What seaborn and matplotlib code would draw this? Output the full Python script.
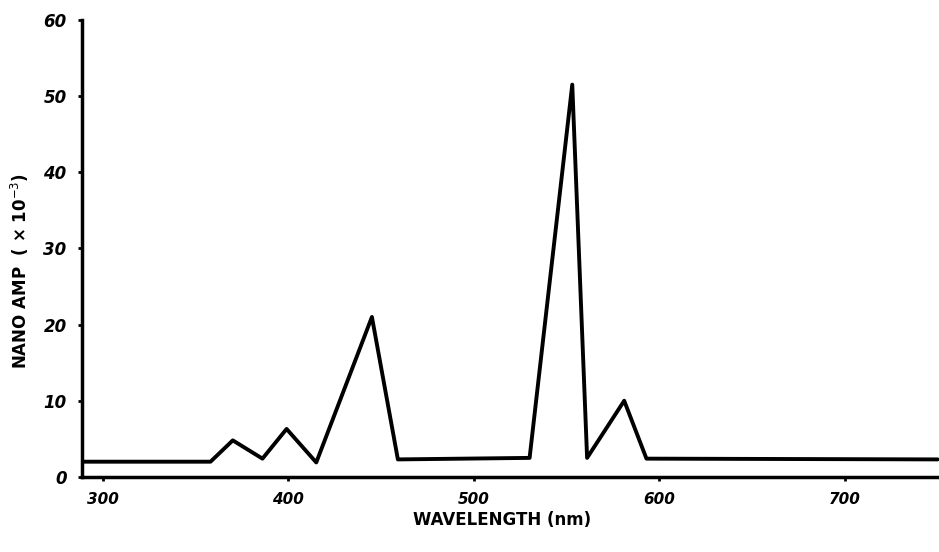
import pandas as pd
import matplotlib.pyplot as plt
import seaborn as sns

# Values
wavelength = [290, 358, 370, 386, 399, 415, 445, 459, 530, 553, 561, 581, 593, 750]
current = [2.0, 2.0, 4.8, 2.4, 6.3, 1.9, 21.0, 2.3, 2.5, 51.5, 2.5, 10.0, 2.4, 2.3]

x_ticks = [300, 400, 500, 600, 700]
y_ticks = [0, 10, 20, 30, 40, 50, 60]

df = pd.DataFrame({'wavelength': wavelength, 'current': current})

sns.set_style("ticks")
plt.rcParams['font.family'] = ['DejaVu Sans']
plt.rcParams['text.color'] = 'black'
plt.rcParams['axes.labelcolor'] = 'black'
plt.rcParams['xtick.color'] = 'black'
plt.rcParams['ytick.color'] = 'black'

fig = plt.figure(figsize=(9.39, 5.52), dpi=100)
ax = fig.add_axes([0.0873, 0.136, 0.9127, 0.828])

sns.lineplot(data=df, x='wavelength', y='current', color='black', linewidth=2.8, ax=ax)

ax.set_xlim(288.7, 750.7)
ax.set_ylim(0, 60)
ax.set_xticks(x_ticks)
ax.set_yticks(y_ticks)
ax.set_xticklabels([str(t) for t in x_ticks], fontsize=11, fontweight='bold', fontstyle='italic')
ax.set_yticklabels([str(t) for t in y_ticks], fontsize=12, fontweight='bold', fontstyle='italic')
ax.tick_params(axis='both', length=3, width=2, pad=8)

sns.despine(ax=ax)
for side in ['left', 'bottom']:
    ax.spines[side].set_linewidth(2.5)
    ax.spines[side].set_color('black')

ax.set_xlabel('WAVELENGTH (nm)', fontsize=12, fontweight='bold')
ax.set_ylabel('NANO AMP  ( × 10$^{-3}$)', fontsize=12, fontweight='bold')
ax.xaxis.set_label_coords(0.49, -0.075)
ax.yaxis.set_label_coords(-0.06, 0.45)

plt.savefig('out.png', dpi=100)
